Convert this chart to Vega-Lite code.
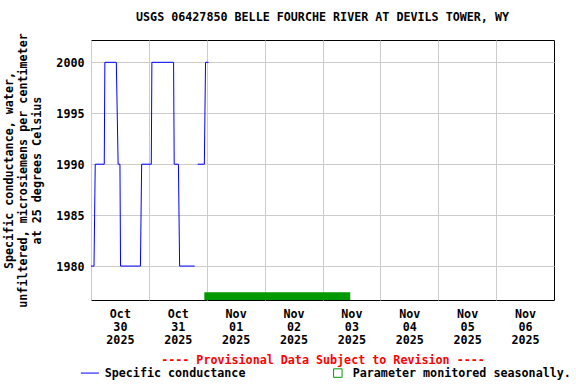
{
  "$schema": "https://vega.github.io/schema/vega-lite/v6.json",
  "width": 463,
  "height": 260,
  "autosize": "none",
  "padding": {"left": 91, "top": 40, "right": 22, "bottom": 84},
  "background": "white",
  "config": {
    "font": "DejaVu Sans Mono",
    "view": {"stroke": "black", "strokeWidth": 1}
  },
  "title": {
    "text": "USGS 06427850 BELLE FOURCHE RIVER AT DEVILS TOWER, WY",
    "font": "DejaVu Sans Mono",
    "fontSize": 11.7,
    "fontWeight": "bold",
    "color": "black",
    "anchor": "middle",
    "frame": "group",
    "offset": 9
  },
  "datasets": {
    "cond": [
      {"time": "2025-10-30T00:00:00", "value": 1980, "seg": 1, "series": "Specific conductance"},
      {"time": "2025-10-30T01:15:00", "value": 1980, "seg": 1, "series": "Specific conductance"},
      {"time": "2025-10-30T01:45:00", "value": 1990, "seg": 1, "series": "Specific conductance"},
      {"time": "2025-10-30T05:30:00", "value": 1990, "seg": 1, "series": "Specific conductance"},
      {"time": "2025-10-30T05:45:00", "value": 2000, "seg": 1, "series": "Specific conductance"},
      {"time": "2025-10-30T10:30:00", "value": 2000, "seg": 1, "series": "Specific conductance"},
      {"time": "2025-10-30T11:15:00", "value": 1990, "seg": 1, "series": "Specific conductance"},
      {"time": "2025-10-30T12:00:00", "value": 1990, "seg": 1, "series": "Specific conductance"},
      {"time": "2025-10-30T12:15:00", "value": 1980, "seg": 1, "series": "Specific conductance"},
      {"time": "2025-10-30T20:30:00", "value": 1980, "seg": 1, "series": "Specific conductance"},
      {"time": "2025-10-30T21:00:00", "value": 1990, "seg": 1, "series": "Specific conductance"},
      {"time": "2025-10-31T01:00:00", "value": 1990, "seg": 1, "series": "Specific conductance"},
      {"time": "2025-10-31T01:15:00", "value": 2000, "seg": 1, "series": "Specific conductance"},
      {"time": "2025-10-31T10:15:00", "value": 2000, "seg": 1, "series": "Specific conductance"},
      {"time": "2025-10-31T10:30:00", "value": 1990, "seg": 1, "series": "Specific conductance"},
      {"time": "2025-10-31T12:15:00", "value": 1990, "seg": 1, "series": "Specific conductance"},
      {"time": "2025-10-31T12:45:00", "value": 1980, "seg": 1, "series": "Specific conductance"},
      {"time": "2025-10-31T19:00:00", "value": 1980, "seg": 1, "series": "Specific conductance"},
      {"time": "2025-10-31T20:15:00", "value": 1990, "seg": 2, "series": "Specific conductance"},
      {"time": "2025-10-31T23:00:00", "value": 1990, "seg": 2, "series": "Specific conductance"},
      {"time": "2025-10-31T23:30:00", "value": 2000, "seg": 2, "series": "Specific conductance"},
      {"time": "2025-11-01T00:45:00", "value": 2000, "seg": 2, "series": "Specific conductance"}
    ],
    "season": [
      {"start": "2025-10-31T23:00:00", "end": "2025-11-03T11:30:00", "low": 1976.67, "high": 1977.42, "series": "Parameter monitored seasonally."}
    ]
  },
  "layer": [
    {
      "data": {"name": "season"},
      "mark": {"type": "rect"},
      "encoding": {
        "x": {"field": "start", "type": "temporal"},
        "x2": {"field": "end"},
        "y": {"field": "low", "type": "quantitative"},
        "y2": {"field": "high"},
        "color": {"field": "series", "type": "nominal"}
      }
    },
    {
      "data": {"name": "cond"},
      "mark": {"type": "line", "strokeWidth": 1, "clip": true},
      "encoding": {
        "x": {
          "field": "time",
          "type": "temporal",
          "scale": {"domain": [{"year": 2025, "month": "oct", "date": 30}, {"year": 2025, "month": "nov", "date": 7}]},
          "axis": {
            "values": [
              {"year": 2025, "month": "oct", "date": 30},
              {"year": 2025, "month": "oct", "date": 31},
              {"year": 2025, "month": "nov", "date": 1},
              {"year": 2025, "month": "nov", "date": 2},
              {"year": 2025, "month": "nov", "date": 3},
              {"year": 2025, "month": "nov", "date": 4},
              {"year": 2025, "month": "nov", "date": 5},
              {"year": 2025, "month": "nov", "date": 6}
            ],
            "labelExpr": "[timeFormat(datum.value, '%b'), timeFormat(datum.value, '%d'), timeFormat(datum.value, '%Y')]",
            "labelOffset": 28.9,
            "labelPadding": 8,
            "labelLineHeight": 13,
            "labelFont": "DejaVu Sans Mono",
            "labelFontSize": 11.7,
            "labelFontWeight": "bold",
            "labelColor": "black",
            "labelBound": false,
            "labelOverlap": false,
            "labelFlush": false,
            "ticks": false,
            "domain": false,
            "grid": true,
            "gridColor": "#cccccc",
            "gridWidth": 1,
            "title": "---- Provisional Data Subject to Revision ----",
            "titleColor": "#ff0000",
            "titleFont": "DejaVu Sans Mono",
            "titleFontSize": 11.7,
            "titleFontWeight": "bold",
            "titlePadding": 9
          }
        },
        "y": {
          "field": "value",
          "type": "quantitative",
          "scale": {"domain": [1976.67, 2002.19], "nice": false, "zero": false},
          "axis": {
            "values": [1980, 1985, 1990, 1995, 2000],
            "format": "d",
            "labelFont": "DejaVu Sans Mono",
            "labelFontSize": 11.7,
            "labelFontWeight": "bold",
            "labelColor": "black",
            "labelPadding": 7,
            "ticks": false,
            "domain": false,
            "grid": true,
            "gridColor": "#cccccc",
            "title": ["Specific conductance, water,", "unfiltered, microsiemens per centimeter", "at 25 degrees Celsius"],
            "titleFont": "DejaVu Sans Mono",
            "titleFontSize": 11.7,
            "titleFontWeight": "bold",
            "titleColor": "black",
            "titleLineHeight": 14,
            "titlePadding": 13
          }
        },
        "detail": {"field": "seg", "type": "nominal"},
        "color": {
          "field": "series",
          "type": "nominal",
          "scale": {"domain": ["Specific conductance", "Parameter monitored seasonally."], "range": ["#0000ff", "#009900"]},
          "legend": {
            "orient": "none",
            "legendX": -7,
            "legendY": 327,
            "direction": "horizontal",
            "title": null,
            "columns": 2,
            "columnPadding": 85,
            "labelFont": "DejaVu Sans Mono",
            "labelFontSize": 11.7,
            "labelFontWeight": "bold",
            "labelColor": "black",
            "labelOffset": 9,
            "labelLimit": 400,
            "symbolStrokeWidth": 1,
            "symbolFillColor": "transparent",
            "encode": {
              "symbols": {
                "enter": {
                  "fill": {"value": "transparent"}
                },
                "update": {
                  "shape": {"signal": "datum.label === 'Specific conductance' ? 'stroke' : 'square'"},
                  "size": {"signal": "datum.label === 'Specific conductance' ? 324 : 72"},
                  "fill": {"signal": "'transparent'"},
                  "fillOpacity": {"value": 0},
                  "stroke": {"signal": "datum.label === 'Specific conductance' ? '#0000ff' : '#009900'"},
                  "strokeWidth": {"value": 1},
                  "opacity": {"value": 1}
                }
              }
            }
          }
        }
      }
    }
  ]
}
